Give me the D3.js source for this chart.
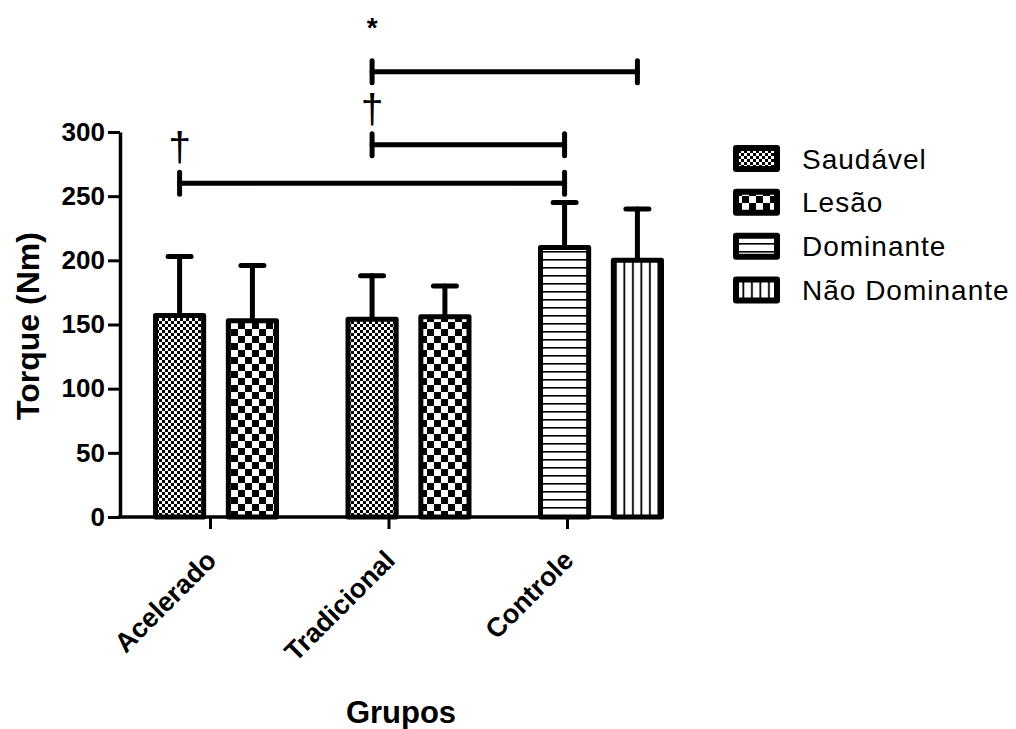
<!DOCTYPE html>
<html>
<head>
<meta charset="utf-8">
<script src="https://cdn.jsdelivr.net/npm/d3@7"></script>
<style>
  html, body { margin: 0; padding: 0; background: #fff; }
  svg { display: block; font-family: "Liberation Sans", Arial, sans-serif; }
</style>
</head>
<body>
<svg id="chart" width="1016" height="729"></svg>
<script>
// Groups and the two series drawn in each group
const groups = ["Acelerado", "Tradicional", "Controle"];
const seriesNames = ["Saudável", "Lesão", "Dominante", "Não Dominante"];
const groupSeries = [["Saudável", "Lesão"], ["Saudável", "Lesão"], ["Dominante", "Não Dominante"]];

// Mean torque (Nm) and standard deviation, per group, in the order of groupSeries
const meanValues = [[157, 153], [154, 156], [210, 200]];
const sdValues = [[46, 43], [34, 24], [35, 40]];

const yTicks = [0, 50, 100, 150, 200, 250, 300];

// Significance brackets: [group, bar index] for each end, height in Nm, marker
const bracketFrom = [["Acelerado", 0], ["Tradicional", 0], ["Tradicional", 0]];
const bracketTo = [["Controle", 0], ["Controle", 0], ["Controle", 1]];
const bracketLevel = [260, 290, 347];
const bracketMark = ["†", "†", "*"];

const svg = d3.select("#chart");
const defs = svg.append("defs");

// Fill patterns
const pSaud = defs.append("pattern").attr("id", "pat-saudavel")
  .attr("patternUnits", "userSpaceOnUse").attr("width", 6).attr("height", 6);
pSaud.append("rect").attr("width", 6).attr("height", 6).attr("fill", "#fff");
pSaud.append("rect").attr("width", 3).attr("height", 3).attr("fill", "#000");
pSaud.append("rect").attr("x", 3).attr("y", 3).attr("width", 3).attr("height", 3).attr("fill", "#000");

const pLes = defs.append("pattern").attr("id", "pat-lesao")
  .attr("patternUnits", "userSpaceOnUse").attr("width", 14).attr("height", 14);
pLes.append("rect").attr("width", 14).attr("height", 14).attr("fill", "#fff");
pLes.append("rect").attr("width", 7).attr("height", 7).attr("fill", "#000");
pLes.append("rect").attr("x", 7).attr("y", 7).attr("width", 7).attr("height", 7).attr("fill", "#000");

const pDom = defs.append("pattern").attr("id", "pat-dominante")
  .attr("patternUnits", "userSpaceOnUse").attr("width", 8).attr("height", 8);
pDom.append("rect").attr("width", 8).attr("height", 8).attr("fill", "#fff");
pDom.append("rect").attr("y", 3).attr("width", 8).attr("height", 1.6).attr("fill", "#000");

const pNDom = defs.append("pattern").attr("id", "pat-naodominante")
  .attr("patternUnits", "userSpaceOnUse").attr("width", 8.5).attr("height", 8);
pNDom.append("rect").attr("width", 8.5).attr("height", 8).attr("fill", "#fff");
pNDom.append("rect").attr("x", 3).attr("width", 1.8).attr("height", 8).attr("fill", "#000");

const fillFor = d3.scaleOrdinal()
  .domain(seriesNames)
  .range(["url(#pat-saudavel)", "url(#pat-lesao)", "url(#pat-dominante)", "url(#pat-naodominante)"]);

// Scales
const y = d3.scaleLinear().domain([0, 300]).range([517, 132]);
const xGroup = d3.scalePoint().domain(groups).range([153, 538]);
const xInner = d3.scaleBand().domain([0, 1]).range([0, 126]).paddingInner(0.27).paddingOuter(0);
const xTick = d3.scalePoint().domain(groups).range([210, 567]);
const barW = xInner.bandwidth();
const sw = 5;

const barCenter = (g, i) => xGroup(g) + xInner(i) + barW / 2;

// Flattened bar records
const bars = [];
groups.forEach((g, gi) => {
  groupSeries[gi].forEach((s, i) => {
    bars.push({ group: g, idx: i, series: s, mean: meanValues[gi][i], sd: sdValues[gi][i] });
  });
});

// Error bars (upper only), drawn behind bars
const err = svg.append("g").attr("stroke", "#000").attr("stroke-width", sw).attr("stroke-linecap", "round");
err.selectAll("line.v").data(bars).join("line").attr("class", "v")
  .attr("x1", d => barCenter(d.group, d.idx)).attr("x2", d => barCenter(d.group, d.idx))
  .attr("y1", d => y(d.mean)).attr("y2", d => y(d.mean + d.sd));
err.selectAll("line.cap").data(bars).join("line").attr("class", "cap")
  .attr("x1", d => barCenter(d.group, d.idx) - 11.5).attr("x2", d => barCenter(d.group, d.idx) + 11.5)
  .attr("y1", d => y(d.mean + d.sd)).attr("y2", d => y(d.mean + d.sd));

// Bars
svg.append("g").selectAll("rect").data(bars).join("rect")
  .attr("x", d => xGroup(d.group) + xInner(d.idx) + sw / 2)
  .attr("y", d => y(d.mean))
  .attr("width", barW - sw)
  .attr("height", d => y(0) - y(d.mean))
  .attr("fill", d => fillFor(d.series))
  .attr("stroke", "#000")
  .attr("stroke-width", sw)
  .attr("stroke-linejoin", "round");

// Y axis
const yAxis = svg.append("g").attr("transform", "translate(120,0)")
  .call(d3.axisLeft(y).tickValues(yTicks).tickSize(12).tickSizeOuter(0).tickPadding(3));
yAxis.select(".domain").attr("stroke-width", 3.5);
yAxis.selectAll(".tick line").attr("stroke-width", 3);
yAxis.selectAll(".tick text").attr("font-size", 26).attr("font-weight", "bold")
  .attr("font-family", "'Liberation Sans', Arial, sans-serif").attr("fill", "#000");

// X axis
svg.append("line").attr("x1", 118).attr("x2", 660).attr("y1", y(0)).attr("y2", y(0))
  .attr("stroke", "#000").attr("stroke-width", 3.5);
const xAxis = svg.append("g").attr("transform", `translate(0,${y(0)})`)
  .call(d3.axisBottom(xTick).tickSize(12).tickSizeOuter(0).tickFormat(""));
xAxis.select(".domain").remove();
xAxis.selectAll(".tick line").attr("stroke-width", 3);

svg.append("g").selectAll("text").data(groups).join("text")
  .attr("transform", g => `translate(${xTick(g) + 8},562) rotate(-45)`)
  .attr("text-anchor", "end")
  .attr("font-size", 27).attr("font-weight", "bold")
  .text(g => g);

// Axis titles
svg.append("text").attr("transform", "translate(39,326) rotate(-90)")
  .attr("text-anchor", "middle").attr("font-size", 32).attr("font-weight", "bold")
  .text("Torque (Nm)");
svg.append("text").attr("x", 401).attr("y", 723)
  .attr("text-anchor", "middle").attr("font-size", 31).attr("font-weight", "bold")
  .text("Grupos");

// Significance brackets
const brackets = bracketLevel.map((v, i) => ({
  x1: barCenter(...bracketFrom[i]), x2: barCenter(...bracketTo[i]), v, mark: bracketMark[i]
}));
const br = svg.append("g").attr("stroke", "#000").attr("stroke-width", 5).attr("stroke-linecap", "round");
br.selectAll("line.h").data(brackets).join("line").attr("class", "h")
  .attr("x1", d => d.x1).attr("x2", d => d.x2).attr("y1", d => y(d.v)).attr("y2", d => y(d.v));
br.selectAll("line.l").data(brackets).join("line").attr("class", "l")
  .attr("x1", d => d.x1).attr("x2", d => d.x1).attr("y1", d => y(d.v) - 11).attr("y2", d => y(d.v) + 11);
br.selectAll("line.r").data(brackets).join("line").attr("class", "r")
  .attr("x1", d => d.x2).attr("x2", d => d.x2).attr("y1", d => y(d.v) - 11).attr("y2", d => y(d.v) + 11);

// Marker glyph size and gap above the bracket, per glyph
const markSize = { "†": 41, "*": 28 };
const markGap = { "†": 22, "*": 35 };
svg.append("g").selectAll("text").data(brackets).join("text")
  .attr("x", d => d.x1).attr("y", d => y(d.v) - markGap[d.mark])
  .attr("text-anchor", "middle").attr("font-size", d => markSize[d.mark])
  .attr("font-weight", d => d.mark === "*" ? "bold" : "normal")
  .text(d => d.mark);

// Legend
const legY = d3.scalePoint().domain(seriesNames).range([158.5, 290]);
const leg = svg.append("g");
leg.selectAll("rect").data(seriesNames).join("rect")
  .attr("x", 736).attr("y", s => legY(s) - 10.5)
  .attr("width", 41).attr("height", 21)
  .attr("fill", s => fillFor(s)).attr("stroke", "#000").attr("stroke-width", 6)
  .attr("stroke-linejoin", "round");
leg.selectAll("text").data(seriesNames).join("text")
  .attr("x", 802).attr("y", s => legY(s) + 10)
  .attr("font-size", 28).attr("letter-spacing", 1)
  .text(s => s);
</script>
</body>
</html>
